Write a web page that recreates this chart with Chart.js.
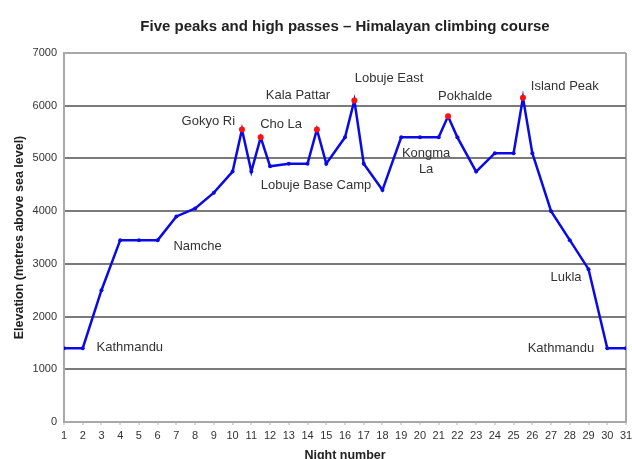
<!DOCTYPE html>
<html>
<head>
<meta charset="utf-8">
<script src="https://cdn.jsdelivr.net/npm/chart.js@4"></script>
<style>
  html, body { margin: 0; padding: 0; background: #fff; }
</style>
</head>
<body>
<canvas id="myChart" width="632" height="459"></canvas>
<script>
// night number (half nights = summit days) and elevation in metres
const nights = [1, 2, 3, 4, 5, 6, 7, 8, 9, 10, 10.5, 11, 11.5, 12, 13, 14, 14.5, 15, 16, 16.5, 17, 18, 19, 20, 21, 21.5, 22, 23, 24, 25, 25.5, 26, 27, 28, 29, 30, 31];
const elevations = [1400, 1400, 2500, 3450, 3450, 3450, 3900, 4050, 4350, 4750, 5550, 4750, 5400, 4850, 4900, 4900, 5550, 4900, 5400, 6100, 4900, 4400, 5400, 5400, 5400, 5800, 5400, 4750, 5100, 5100, 6150, 5100, 4000, 3450, 2900, 1400, 1400];
const peakNights = [10.5, 11.5, 14.5, 16.5, 21.5, 25.5];

// place names written on the plot
const labelText = ['Kathmandu', 'Namche', 'Gokyo Ri', 'Cho La', 'Kala Pattar', 'Lobuje Base Camp', 'Lobuje East', 'Kongma', 'La', 'Pokhalde', 'Island Peak', 'Lukla', 'Kathmandu'];
const labelNight = [2.74, 6.84, 10.13, 11.47, 13.49, 11.5, 18.35, 20.33, 20.33, 22.41, 25.92, 27.8, 29.3];
const labelElev = [1410, 3340, 5700, 5640, 6190, 4480, 6520, 5100, 4800, 6170, 6360, 2750, 1400];
const labelAlign = ['left', 'left', 'right', 'left', 'center', 'left', 'center', 'center', 'center', 'center', 'left', 'center', 'right'];

const FONT = "'Liberation Sans', Arial, sans-serif";

const points = nights.map((n, i) => ({ x: n, y: elevations[i] }));
const isPeak = nights.map(n => peakNights.includes(n));

const placeLabels = {
  id: 'placeLabels',
  afterDatasetsDraw(chart) {
    const ctx = chart.ctx;
    const xs = chart.scales.x;
    const ys = chart.scales.y;
    ctx.save();
    ctx.font = '13px ' + FONT;
    ctx.fillStyle = '#333';
    ctx.textBaseline = 'middle';
    for (let i = 0; i < labelText.length; i++) {
      ctx.textAlign = labelAlign[i];
      ctx.fillText(labelText[i], xs.getPixelForValue(labelNight[i]), ys.getPixelForValue(labelElev[i]));
    }
    ctx.restore();
  }
};

const ctx = document.getElementById('myChart').getContext('2d');
const myChart = new Chart(ctx, {
  type: 'line',
  data: {
    datasets: [{
      data: points,
      borderColor: '#0a0ae6',
      borderWidth: 2.5,
      tension: 0,
      fill: false,
      pointRadius: isPeak.map(p => p ? 3 : 2),
      pointBackgroundColor: isPeak.map(p => p ? '#ff1010' : '#0a0ae6'),
      pointBorderColor: isPeak.map(p => p ? '#ff1010' : '#0a0ae6'),
      pointBorderWidth: 0
    }]
  },
  options: {
    responsive: false,
    animation: false,
    layout: { padding: { left: 0, right: 6, top: 0, bottom: 0 } },
    plugins: {
      legend: { display: false },
      tooltip: { enabled: false },
      title: {
        display: true,
        fullSize: false,
        text: 'Five peaks and high passes \u2013 Himalayan climbing course',
        color: '#222',
        font: { family: FONT, size: 15, weight: 'bold' },
        padding: { top: 18, bottom: 17 }
      }
    },
    scales: {
      x: {
        type: 'linear',
        min: 1,
        max: 31,
        afterFit: s => { s.height = 37; s.paddingLeft = 0; s.paddingRight = 0; },
        border: { color: '#a8a8a8', width: 2 },
        grid: {
          drawOnChartArea: true,
          color: c => c.index === 30 ? '#a8a8a8' : 'rgba(0,0,0,0)',
          lineWidth: 2,
          tickColor: '#b0b0b0',
          tickLength: 3,
          tickWidth: 1
        },
        ticks: {
          stepSize: 1,
          autoSkip: false,
          maxRotation: 0,
          color: '#333',
          padding: 4,
          font: { family: FONT, size: 11 }
        },
        title: {
          display: true,
          text: 'Night number',
          color: '#222',
          font: { family: FONT, size: 12.5, weight: 'bold' },
          padding: { top: 0, bottom: -4 }
        }
      },
      y: {
        min: 0,
        max: 7000,
        afterFit: s => { s.width = 64; },
        border: { color: '#a8a8a8', width: 2 },
        grid: {
          drawTicks: false,
          color: c => c.tick.value === 7000 ? '#a8a8a8' : (c.tick.value === 0 ? 'rgba(0,0,0,0)' : '#7a7a7a'),
          lineWidth: 2
        },
        ticks: {
          stepSize: 1000,
          color: '#333',
          padding: 7,
          font: { family: FONT, size: 11 },
          callback: v => String(v)
        },
        title: {
          display: true,
          text: 'Elevation (metres above sea level)',
          color: '#222',
          font: { family: FONT, size: 12.5, weight: 'bold' },
          padding: { top: 12, bottom: 0 }
        }
      }
    }
  },
  plugins: [placeLabels]
});
</script>
</body>
</html>
